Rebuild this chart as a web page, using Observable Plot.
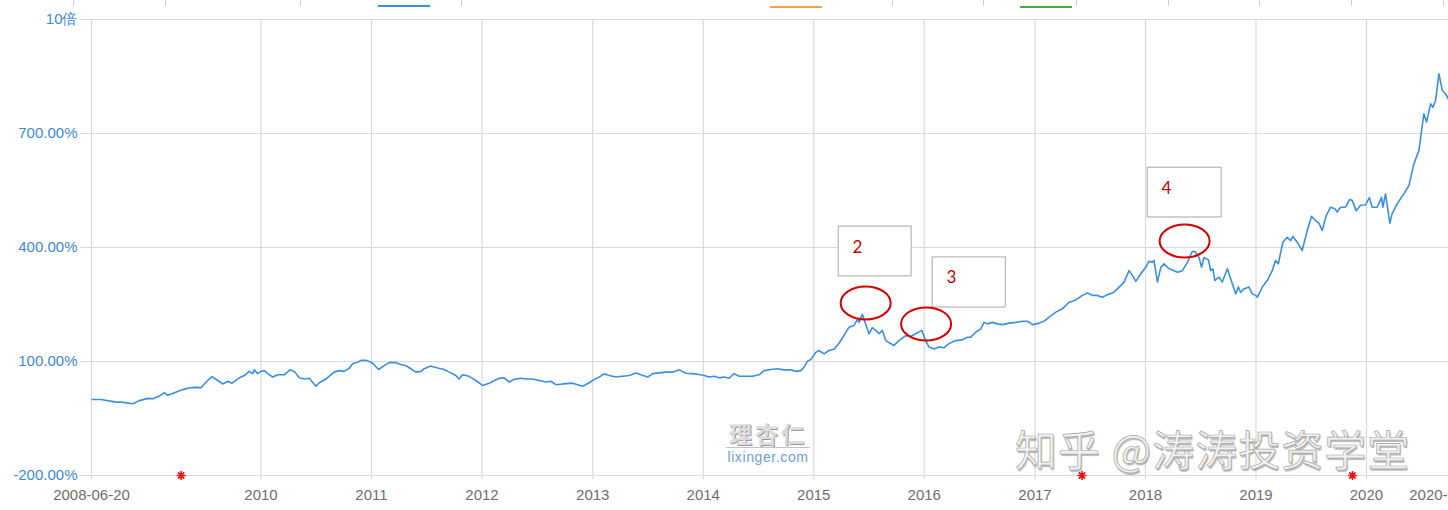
<!DOCTYPE html>
<html>
<head>
<meta charset="utf-8">
<script src="https://cdn.jsdelivr.net/npm/d3@7"></script>
<script src="https://cdn.jsdelivr.net/npm/@observablehq/plot@0.6"></script>
<style>
  html, body { margin: 0; padding: 0; background: #fff; }
  #wrap { position: relative; width: 1448px; height: 510px; overflow: hidden; font-family: "Liberation Sans", Arial, sans-serif; }
  #legend { position: relative; width: 1448px; height: 10px; }
  #legend .sw { position: absolute; top: 5px; height: 2px; width: 52px; }
  #legend .sep { position: absolute; top: 0; height: 6px; width: 1px; background: #cfcfcf; }
  .wm-lx { position: absolute; left: 726px; top: 419px; width: 84px; text-align: center; pointer-events: none; }
  .wm-lx .cn { font-family: "Noto Sans CJK SC", sans-serif; font-weight: 700; font-size: 23px; line-height: 28px; letter-spacing: 3px; color: #dcdcdc; text-shadow: 1px 1px 0 #9a9a9a; }
  .wm-lx .bar { height: 1px; background: #b9c4d0; margin: 0 0 2px 0; }
  .wm-lx .en { font-size: 14px; line-height: 14px; color: #6a9fd6; letter-spacing: 0.6px; }
  .wm-zh { position: absolute; left: 1015px; top: 427px; font-family: "Noto Sans CJK SC", sans-serif; font-size: 42px; line-height: 42px; letter-spacing: 1px; color: #f1f1f1; -webkit-text-stroke: 0.7px #a8a8a8; text-shadow: 1px 2px 1px rgba(0,0,0,0.28); white-space: nowrap; pointer-events: none; }
</style>
</head>
<body>
<div id="wrap">
  <div id="legend"></div>
  <div id="chart"></div>
  <div class="wm-lx"><div class="cn">理杏仁</div><div class="bar"></div><div class="en">lixinger.com</div></div>
  <div class="wm-zh">知乎 @涛涛投资学堂</div>
</div>
<script>
// ---- data (decimal year, cumulative return %) ----
const years = [
  2008.472,2008.553,2008.689,2008.734,2008.840,2008.900,2008.976,2009.021,2009.080,2009.126,
  2009.156,2009.216,2009.292,2009.352,2009.412,2009.457,2009.503,2009.557,2009.608,2009.654,
  2009.699,2009.738,2009.804,2009.849,2009.894,2009.925,2009.939,2009.970,2010.000,2010.030,
  2010.061,2010.106,2010.151,2010.211,2010.262,2010.301,2010.346,2010.392,2010.437,2010.497,
  2010.527,2010.588,2010.663,2010.708,2010.753,2010.798,2010.829,2010.874,2010.904,2010.949,
  2010.995,2011.015,2011.064,2011.115,2011.160,2011.221,2011.266,2011.311,2011.356,2011.401,
  2011.447,2011.477,2011.537,2011.598,2011.657,2011.703,2011.763,2011.793,2011.824,
  2011.883,2011.944,2012.005,2012.064,2012.155,2012.200,2012.245,2012.290,2012.351,2012.396,
  2012.457,2012.516,2012.577,2012.622,2012.667,2012.728,2012.818,2012.909,2012.968,2013.014,
  2013.059,2013.104,2013.149,2013.210,2013.270,2013.330,2013.391,2013.436,2013.497,2013.542,
  2013.601,2013.662,2013.723,2013.782,2013.843,2013.903,2013.963,2014.008,2014.053,2014.099,
  2014.144,2014.189,2014.234,2014.279,2014.325,2014.385,2014.446,2014.506,2014.551,2014.611,
  2014.672,2014.732,2014.792,2014.837,2014.883,2014.912,2014.943,2014.973,2015.018,2015.048,
  2015.093,2015.138,2015.184,
  2015.229,2015.319,2015.364,2015.395,2015.410,2015.440,2015.470,2015.500,2015.531,2015.561,
  2015.591,2015.621,2015.651,2015.726,2015.771,2015.832,2015.877,2015.922,2015.977,2016.013,
  2016.043,2016.088,2016.133,2016.178,2016.223,2016.284,2016.344,2016.390,2016.420,2016.465,
  2016.510,2016.540,2016.571,2016.616,2016.661,2016.706,2016.766,2016.827,2016.887,2016.932,
  2016.978,2017.037,2017.082,2017.128,2017.188,2017.249,2017.308,2017.369,2017.429,2017.475,
  2017.520,2017.565,2017.610,2017.656,2017.701,2017.746,2017.806,2017.851,2017.882,2017.912,
  2017.957,2018.002,2018.032,2018.062,2018.077,2018.108,2018.138,2018.168,2018.213,2018.244,
  2018.289,2018.334,2018.379,2018.424,2018.454,
  2018.484,2018.508,2018.529,2018.569,2018.590,2018.610,2018.628,2018.665,2018.695,2018.741,
  2018.771,2018.816,2018.840,2018.861,2018.891,2018.936,2018.967,2018.997,2019.012,2019.057,
  2019.102,2019.147,2019.177,2019.202,2019.243,2019.283,2019.313,2019.334,2019.373,2019.418,
  2019.464,2019.503,2019.539,2019.569,2019.600,2019.636,2019.675,2019.714,2019.735,2019.765,
  2019.810,2019.846,2019.871,2019.907,2019.946,2019.991,2020.027,2020.052,2020.097,2020.136,
  2020.148,2020.172,2020.211,2020.232,2020.277,2020.337,2020.383,2020.428,2020.473,2020.518,
  2020.543,2020.579,2020.600,2020.624,2020.654,2020.685,2020.715,2020.739
];
const returns = [
  0,0,-7,-7,-11,-3,3,2,9,18,
  11,18,26,31,32,31,46,60,50,41,
  48,43,57,63,74,68,78,68,74,76,
  68,59,65,65,78,74,57,54,56,35,
  44,54,72,76,74,82,94,98,103,103,
  98,94,79,89,97,97,92,89,81,72,
  74,81,88,83,79,72,63,54,65,
  61,50,37,43,56,57,46,53,56,54,
  54,50,46,48,39,41,43,35,44,53,
  59,68,63,59,61,63,70,65,59,68,
  70,72,72,78,69,68,66,63,59,61,
  57,59,56,68,61,61,61,65,76,79,
  81,78,78,74,76,85,101,105,124,129,
  120,129,132,
  148,190,195,210,203,224,199,173,189,182,
  173,182,155,142,155,168,166,173,182,155,
  138,133,138,136,147,155,157,164,164,177,
  186,203,199,203,199,197,201,203,206,206,
  197,201,206,217,230,239,256,262,274,280,
  274,274,269,276,280,291,309,339,326,311,
  331,348,364,361,366,309,347,357,344,341,
  335,339,361,390,388,
  374,348,373,368,339,344,313,322,309,344,
  318,278,296,282,291,296,278,274,269,296,
  313,339,366,357,414,427,418,429,414,392,
  445,482,471,464,445,484,506,502,493,506,
  506,526,524,497,511,512,531,506,506,532,
  506,541,464,489,515,541,563,620,655,752,
  730,778,769,787,857,813,804,791
];

// axis ticks
const xStart = "2008-06-20";
const xEnd = "2020-09-28";
const gridDates = ["2008-06-20","2010-01-01","2011-01-01","2012-01-01","2013-01-01","2014-01-01","2015-01-01","2016-01-01","2017-01-01","2018-01-01","2019-01-01","2020-01-01"];
const xTickDates = ["2008-06-20","2010-01-01","2011-01-01","2012-01-01","2013-01-01","2014-01-01","2015-01-01","2016-01-01","2017-01-01","2018-01-01","2019-01-01","2020-01-01","2020-09-25"];
const xTickLabels = ["2008-06-20","2010","2011","2012","2013","2014","2015","2016","2017","2018","2019","2020","2020-09-25"];
const yTicks = [-200, 100, 400, 700, 1000];
const yTickLabels = ["-200.00%", "100.00%", "400.00%", "700.00%", "10倍"];

// red markers on the baseline (decimal years)
const markerYears = [2009.277, 2017.425, 2019.873];

// annotation boxes (decimal year range, value range) and their numbers
const boxLabels = ["2", "3", "4"];
const boxYear0 = [2015.226, 2016.076, 2018.020];
const boxYear1 = [2015.886, 2016.736, 2018.689];
const boxTop = [455, 374, 610];
const boxBottom = [324, 242, 479];
const labelYear = [2015.395, 2016.245, 2018.189];
const labelValue = [399, 320, 554];
// red ellipses
const ellipseYear = [2015.470, 2016.017, 2018.354];
const ellipseValue = [254, 199, 417];

// legend (colours of the cropped series legend)
const legendColors = ["#3b8fe0", "#f4a04c", "#4aa84e"];

// ---- helpers ----
const toDate = t => {
  const y = Math.floor(t);
  const a = Date.UTC(y, 0, 1), b = Date.UTC(y + 1, 0, 1);
  return new Date(a + (t - y) * (b - a));
};
const parse = s => new Date(s + "T00:00:00Z");

const n = Math.min(years.length, returns.length);
const series = d3.range(n).map(i => ({date: toDate(years[i]), value: returns[i]}));

const xLabelMap = new Map(xTickDates.map((d, i) => [+parse(d), xTickLabels[i]]));
const yLabelMap = new Map(yTicks.map((d, i) => [d, yTickLabels[i]]));

const boxes = boxLabels.map((k, i) => ({k, x1: toDate(boxYear0[i]), x2: toDate(boxYear1[i]), y1: boxBottom[i], y2: boxTop[i], lx: toDate(labelYear[i]), ly: labelValue[i], ex: toDate(ellipseYear[i]), ey: ellipseValue[i]}));
const markers = markerYears.map(t => ({date: toDate(t), value: yTicks[0]}));

const ellipseSymbol = {
  draw(ctx, size) {
    const rx = Math.sqrt(size / Math.PI), ry = rx * 0.66;
    const kx = rx * 0.5523, ky = ry * 0.5523;
    ctx.moveTo(rx, 0);
    ctx.bezierCurveTo(rx, ky, kx, ry, 0, ry);
    ctx.bezierCurveTo(-kx, ry, -rx, ky, -rx, 0);
    ctx.bezierCurveTo(-rx, -ky, -kx, -ry, 0, -ry);
    ctx.bezierCurveTo(kx, -ry, rx, -ky, rx, 0);
    ctx.closePath();
  }
};
const asteriskSymbol = {
  draw(ctx, size) {
    const r = Math.sqrt(size / Math.PI);
    for (let k = 0; k < 4; k++) {
      const a = k * Math.PI / 4;
      ctx.moveTo(r * Math.cos(a), r * Math.sin(a));
      ctx.lineTo(-r * Math.cos(a), -r * Math.sin(a));
    }
  }
};

// legend strip
const legend = document.getElementById("legend");
const legendPos = [378, 770, 1020];
const sepPos = [73, 165, 300, 461, 892, 983, 1076, 1168, 1259, 1351, 1443];
sepPos.forEach(x => { const s = document.createElement("div"); s.className = "sep"; s.style.left = x + "px"; legend.appendChild(s); });
legendColors.forEach((c, i) => { const s = document.createElement("div"); s.className = "sw"; s.style.left = legendPos[i] + "px"; s.style.background = c; s.style.top = (i === 0 ? 5 : 6) + "px"; legend.appendChild(s); });

const blue = "#3b8fe0";
const grid = "#d9d9d9";

const chart = Plot.plot({
  width: 1448,
  height: 500,
  marginTop: 9,
  marginBottom: 35,
  marginLeft: 91,
  marginRight: 0,
  style: {fontFamily: "'Liberation Sans', Arial, sans-serif", fontSize: "15px", background: "white"},
  x: {type: "utc", domain: [parse(xStart), parse(xEnd)]},
  y: {domain: [yTicks[0], yTicks[yTicks.length - 1]]},
  marks: [
    Plot.ruleY(yTicks, {stroke: grid, strokeWidth: 1.2, insetLeft: -11}),
    Plot.ruleX(gridDates.map(parse), {stroke: grid, strokeWidth: 1.2, insetBottom: -4}),
    Plot.lineY(series, {x: "date", y: "value", stroke: blue, strokeWidth: 1.6}),
    Plot.rect(boxes, {x1: "x1", x2: "x2", y1: "y1", y2: "y2", fill: "white", stroke: "#a8a8a8", strokeWidth: 1}),
    Plot.text(boxes, {x: "lx", y: "ly", text: "k", fill: "#c00000", fontSize: 17, fontFamily: "Lato, 'Open Sans', sans-serif"}),
    Plot.dot(boxes, {x: "ex", y: "ey", symbol: ellipseSymbol, r: 25, stroke: "#d40000", strokeWidth: 2, fill: "none"}),
    Plot.dot(markers, {x: "date", y: "value", symbol: asteriskSymbol, r: 4.5, stroke: "#ee1111", strokeWidth: 1.6}),
    Plot.axisY(yTicks, {tickSize: 0, tickPadding: 14, tickFormat: d => yLabelMap.get(d), color: "#3d8ad6", fontSize: 15, label: null}),
    Plot.axisX(xTickDates.map(parse), {tickSize: 0, tickPadding: 14, tickFormat: d => xLabelMap.get(+d), color: "#6e6e6e", fontSize: 15, label: null})
  ]
});
document.getElementById("chart").appendChild(chart);
</script>
</body>
</html>
